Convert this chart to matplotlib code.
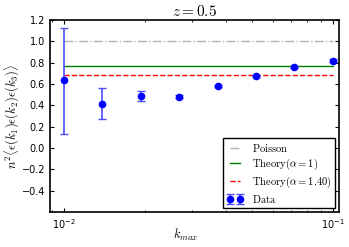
import matplotlib
matplotlib.use("Agg")
import matplotlib.pyplot as plt
import numpy as np

plt.rcParams['mathtext.fontset'] = 'cm'
plt.rcParams['xtick.direction'] = 'in'
plt.rcParams['ytick.direction'] = 'in'
plt.rcParams['xtick.top'] = True
plt.rcParams['ytick.right'] = True

kmax = [0.01, 0.0139, 0.0193, 0.0268, 0.0373, 0.0518, 0.072, 0.1]
valores = [0.634, 0.413, 0.488, 0.482, 0.585, 0.673, 0.758, 0.82]
err_abajo = [0.50, 0.145, 0.05, 0.01, 0.01, 0.01, 0.01, 0.01]
err_arriba = [0.49, 0.145, 0.05, 0.01, 0.01, 0.01, 0.01, 0.01]

poisson = 1.0
teoria_1 = 0.765
teoria_140 = 0.68

fig = plt.figure(figsize=(3.49, 2.47), dpi=100)
ax = fig.add_axes([0.143, 0.142, 0.828, 0.777])

ax.plot([kmax[0], kmax[-1]], [poisson, poisson], linestyle='-.', color='gray', lw=1, alpha=0.6, label=r"$\rm{Poisson}$")
ax.plot([kmax[0], kmax[-1]], [teoria_1, teoria_1], '-', color='green', lw=1, label=r"$\rm{Theory}(\alpha=1)$")
ax.plot([kmax[0], kmax[-1]], [teoria_140, teoria_140], '--', color='red', lw=1, label=r"$\rm{Theory}(\alpha=1.40)$")
ax.errorbar(kmax, valores, yerr=[err_abajo, err_arriba], fmt='o', color='blue', ecolor=(0.3, 0.3, 1.0),
            ms=4.5, capsize=3, elinewidth=1.2, label=r"$\rm{Data}$")

ax.set_xscale('log')
ax.set_xlim(0.00887, 0.1053)
ax.set_ylim(-0.6, 1.2)
ax.set_yticks([-0.4, -0.2, 0.0, 0.2, 0.4, 0.6, 0.8, 1.0, 1.2])
ax.tick_params(labelsize=7, length=3)
ax.tick_params(which='minor', length=1.5)
ax.set_title(r"$z=0.5$", fontsize=11, pad=3)
ax.set_xlabel(r"$k_{max}$", fontsize=9)
ax.xaxis.set_label_coords(0.47, -0.08)
ax.set_ylabel(r"$n^2\langle\epsilon(k_1)\epsilon(k_2)\epsilon(k_3)\rangle$", fontsize=9)
ax.yaxis.set_label_coords(-0.095, 0.5)
for s in ax.spines.values():
    s.set_linewidth(1.2)

leg = ax.legend(loc='lower right', fontsize=7.6, numpoints=2, fancybox=False, framealpha=1,
                borderaxespad=0.35, handlelength=1.6, labelspacing=0.25, borderpad=0.35)
leg.get_frame().set_edgecolor('black')

fig.savefig("out.png", dpi=100)
